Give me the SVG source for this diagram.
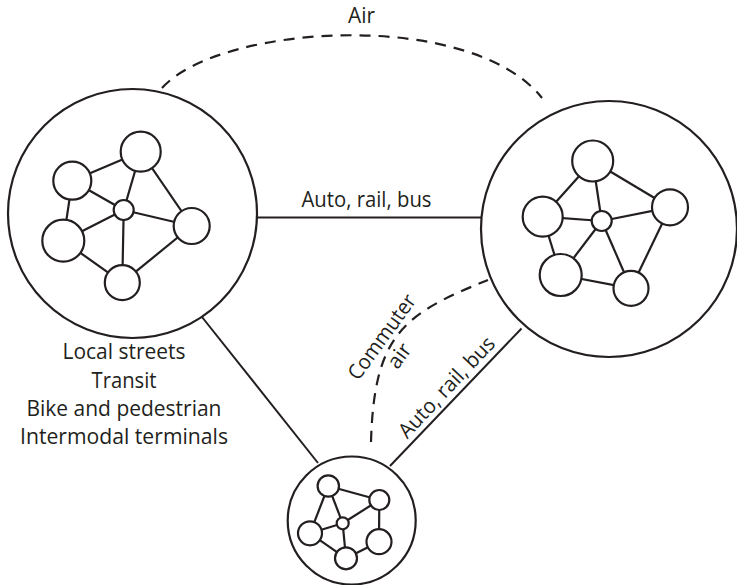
<svg xmlns="http://www.w3.org/2000/svg" width="737" height="585" viewBox="0 0 737 585">
<style>
.bg{fill:#ffffff}
.big{fill:#ffffff;stroke:#231f20;stroke-width:2.2}
.n{fill:#ffffff;stroke:#231f20;stroke-width:2.2}
.e{stroke:#231f20;stroke-width:2.2;fill:none}
.c{stroke:#231f20;stroke-width:2;fill:none}
.d{stroke:#231f20;stroke-width:2.2;fill:none;stroke-dasharray:11 8}
.t{font-family:"Open Sans","Liberation Sans",sans-serif;font-size:21px;fill:#231f20;text-anchor:middle}
</style>
<rect class="bg" x="0" y="0" width="737" height="585"/>
<g id="connectors">
  <path class="d" d="M162,88 C220,24 470,8 542,98"/>
  <line class="c" x1="257" y1="217.5" x2="481" y2="217.5"/>
  <line class="c" x1="202" y1="317" x2="318" y2="463"/>
  <line class="c" x1="521.5" y1="328.5" x2="390" y2="466"/>
  <path class="d" d="M371,442 C374,335 403,314 488,280"/>
</g>
<g id="labels">
  <text class="t" x="361.5" y="22.5" textLength="27" lengthAdjust="spacingAndGlyphs">Air</text>
  <text class="t" x="366.5" y="206.5" textLength="130" lengthAdjust="spacingAndGlyphs">Auto, rail, bus</text>
  <text class="t" x="124" y="359" textLength="123" lengthAdjust="spacingAndGlyphs">Local streets</text>
  <text class="t" x="124" y="387.5" textLength="65" lengthAdjust="spacingAndGlyphs">Transit</text>
  <text class="t" x="124" y="416" textLength="195" lengthAdjust="spacingAndGlyphs">Bike and pedestrian</text>
  <text class="t" x="124" y="443.5" textLength="208" lengthAdjust="spacingAndGlyphs">Intermodal terminals</text>
  <g transform="translate(387.7,341.1) rotate(-54)">
    <text class="t" x="0" y="0" textLength="100" lengthAdjust="spacingAndGlyphs">Commuter</text>
    <text class="t" x="-5" y="25">air</text>
  </g>
  <text class="t" transform="translate(451.8,392.1) rotate(-46.8)" x="0" y="0" textLength="130" lengthAdjust="spacingAndGlyphs">Auto, rail, bus</text>
</g>
<g id="region-left">
  <circle class="big" cx="132.5" cy="213.5" r="124.5"/>
  <g class="e">
    <line x1="140.7" y1="151.7" x2="72.3" y2="180.7"/>
    <line x1="140.7" y1="151.7" x2="123.7" y2="210"/>
    <line x1="140.7" y1="151.7" x2="191.7" y2="226"/>
    <line x1="72.3" y1="180.7" x2="123.7" y2="210"/>
    <line x1="72.3" y1="180.7" x2="63.3" y2="240.7"/>
    <line x1="63.3" y1="240.7" x2="123.7" y2="210"/>
    <line x1="63.3" y1="240.7" x2="122.3" y2="282.7"/>
    <line x1="123.7" y1="210" x2="122.3" y2="282.7"/>
    <line x1="123.7" y1="210" x2="191.7" y2="226"/>
    <line x1="122.3" y1="282.7" x2="191.7" y2="226"/>
  </g>
  <circle class="n" cx="140.7" cy="151.7" r="20"/>
  <circle class="n" cx="72.3" cy="180.7" r="19"/>
  <circle class="n" cx="123.7" cy="210" r="10"/>
  <circle class="n" cx="191.7" cy="226" r="18"/>
  <circle class="n" cx="63.3" cy="240.7" r="21"/>
  <circle class="n" cx="122.3" cy="282.7" r="17.5"/>
</g>
<g id="region-right">
  <circle class="big" cx="609" cy="229" r="128"/>
  <g class="e">
    <line x1="592.7" y1="161" x2="542.7" y2="216.7"/>
    <line x1="592.7" y1="161" x2="601.7" y2="221"/>
    <line x1="592.7" y1="161" x2="670" y2="207.3"/>
    <line x1="542.7" y1="216.7" x2="601.7" y2="221"/>
    <line x1="542.7" y1="216.7" x2="560.7" y2="275"/>
    <line x1="560.7" y1="275" x2="601.7" y2="221"/>
    <line x1="560.7" y1="275" x2="631" y2="288.3"/>
    <line x1="601.7" y1="221" x2="631" y2="288.3"/>
    <line x1="601.7" y1="221" x2="670" y2="207.3"/>
    <line x1="670" y1="207.3" x2="631" y2="288.3"/>
  </g>
  <circle class="n" cx="592.7" cy="161" r="20.5"/>
  <circle class="n" cx="542.7" cy="216.7" r="20"/>
  <circle class="n" cx="601.7" cy="221" r="10"/>
  <circle class="n" cx="670" cy="207.3" r="18"/>
  <circle class="n" cx="560.7" cy="275" r="21"/>
  <circle class="n" cx="631" cy="288.3" r="17.5"/>
</g>
<g id="region-bottom">
  <circle class="big" cx="351.7" cy="520.5" r="64"/>
  <g class="e">
    <line x1="328.3" y1="486" x2="379.3" y2="500"/>
    <line x1="328.3" y1="486" x2="310" y2="533.3"/>
    <line x1="328.3" y1="486" x2="342.7" y2="523.3"/>
    <line x1="379.3" y1="500" x2="342.7" y2="523.3"/>
    <line x1="379.3" y1="500" x2="379" y2="541.7"/>
    <line x1="310" y1="533.3" x2="342.7" y2="523.3"/>
    <line x1="310" y1="533.3" x2="346" y2="558.3"/>
    <line x1="342.7" y1="523.3" x2="346" y2="558.3"/>
    <line x1="346" y1="558.3" x2="379" y2="541.7"/>
  </g>
  <circle class="n" cx="328.3" cy="486" r="10.7"/>
  <circle class="n" cx="379.3" cy="500" r="10"/>
  <circle class="n" cx="342.7" cy="523.3" r="6"/>
  <circle class="n" cx="310" cy="533.3" r="12"/>
  <circle class="n" cx="379" cy="541.7" r="12.5"/>
  <circle class="n" cx="346" cy="558.3" r="11"/>
</g>
</svg>
